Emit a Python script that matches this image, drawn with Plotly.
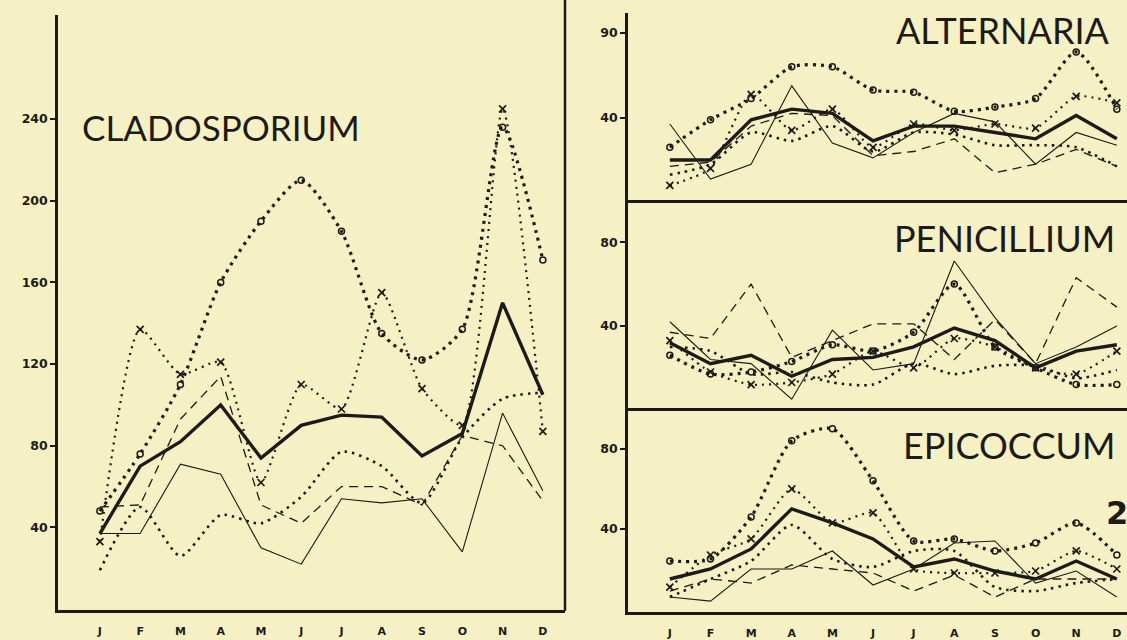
import plotly.graph_objects as go

# ---------------- data ----------------
months = ["J", "F", "M", "A", "M", "J", "J", "A", "S", "O", "N", "D"]
month_idx = list(range(12))

clado_thick   = [37, 70, 82, 100, 74, 90, 95, 94, 75, 86, 150, 105]
clado_thin    = [37, 37, 71, 66, 30, 22, 54, 52, 54, 28, 96, 58]
clado_dashed  = [50, 51, 93, 114, 51, 42, 60, 60, 51, 85, 80, 53]
clado_dotted  = [19, 50, 26, 46, 42, 55, 77, 70, 52, 84, 103, 106]
clado_circles = [48, 76, 110, 160, 190, 210, 185, 135, 122, 137, 236, 171]
clado_crosses = [33, 137, 115, 121, 62, 110, 98, 155, 108, 90, 245, 87]

alt_thick   = [20, 20, 39, 44, 42, 29, 36, 36, 33, 30, 41, 30]
alt_thin    = [37, 11, 18, 55, 28, 21, 33, 42, 38, 18, 33, 27]
alt_dashed  = [17, 19, 36, 42, 41, 22, 24, 30, 14, 18, 25, 17]
alt_dotted  = [13, 18, 33, 29, 36, 24, 33, 32, 27, 27, 26, 17]
alt_circles = [26, 39, 49, 64, 64, 53, 52, 43, 45, 49, 71, 44]
alt_crosses = [8, 16, 51, 34, 44, 26, 37, 34, 37, 35, 50, 47]

pen_thick   = [32, 22, 26, 16, 24, 25, 30, 39, 33, 20, 28, 31]
pen_thin    = [42, 24, 22, 5, 38, 19, 22, 71, 44, 22, 30, 40]
pen_dashed  = [37, 34, 60, 25, 33, 41, 41, 24, 43, 22, 63, 49]
pen_dotted  = [30, 28, 17, 18, 13, 12, 22, 17, 21, 21, 15, 19]
pen_circles = [26, 17, 18, 23, 31, 28, 37, 60, 30, 20, 12, 12]
pen_crosses = [33, 18, 12, 13, 17, 28, 20, 34, 30, 20, 17, 28]

epi_thick   = [15, 20, 30, 50, 43, 35, 21, 25, 19, 15, 24, 15]
epi_thin    = [6, 4, 20, 20, 29, 12, 20, 33, 34, 13, 19, 6]
epi_dashed  = [9, 15, 13, 22, 20, 18, 9, 17, 6, 15, 15, 15]
epi_dotted  = [6, 15, 24, 42, 25, 21, 29, 29, 11, 9, 13, 15]
epi_circles = [24, 25, 46, 84, 90, 64, 34, 35, 29, 33, 43, 27]
epi_crosses = [11, 27, 35, 60, 43, 48, 20, 18, 18, 19, 29, 20]

clado_ticks = [40, 80, 120, 160, 200, 240]
small_ticks = [40, 80]
alt_ticktext = ["40", "90"]
pen_ticktext = ["40", "80"]
epi_ticktext = ["40", "80"]

panels = [
    ("x", "y", dict(thick=clado_thick, thin=clado_thin, dashed=clado_dashed,
                    dotted=clado_dotted, circles=clado_circles, crosses=clado_crosses)),
    ("x2", "y2", dict(thick=alt_thick, thin=alt_thin, dashed=alt_dashed,
                      dotted=alt_dotted, circles=alt_circles, crosses=alt_crosses)),
    ("x3", "y3", dict(thick=pen_thick, thin=pen_thin, dashed=pen_dashed,
                      dotted=pen_dotted, circles=pen_circles, crosses=pen_crosses)),
    ("x4", "y4", dict(thick=epi_thick, thin=epi_thin, dashed=epi_dashed,
                      dotted=epi_dotted, circles=epi_circles, crosses=epi_crosses)),
]

# ---------------- styling ----------------
W, H = 1127, 640
INK = "#1c1b17"
BG = "#f6f1c4"


def fx(p):
    return p / W


def fy(p):
    return 1 - p / H


styles = {
    "thin": dict(mode="lines", line=dict(color=INK, width=1.1)),
    "dashed": dict(mode="lines", line=dict(color=INK, width=1.3, dash="9px,6px")),
    "dotted": dict(mode="lines", line=dict(color=INK, width=2.6, dash="2.5px,5px",
                                           shape="spline", smoothing=0.7)),
    "circles": dict(mode="lines+markers",
                    line=dict(color=INK, width=3.2, dash="3px,5px", shape="spline", smoothing=0.7),
                    marker=dict(symbol="circle-open", size=6, color=INK, line=dict(width=1.5, color=INK))),
    "crosses": dict(mode="lines+markers",
                    line=dict(color=INK, width=2.2, dash="2px,5px", shape="spline", smoothing=0.6),
                    marker=dict(symbol="x-thin", size=7, color=INK, line=dict(width=1.7, color=INK))),
    "thick": dict(mode="lines", line=dict(color=INK, width=3.4)),
}

fig = go.Figure()
for xa, ya, series in panels:
    for name in ["thin", "dashed", "dotted", "circles", "crosses", "thick"]:
        fig.add_trace(go.Scatter(x=month_idx, y=series[name], xaxis=xa, yaxis=ya,
                                 showlegend=False, hoverinfo="skip", **styles[name]))

numfont = dict(family="DejaVu Sans", size=12.5, color=INK, weight="bold")
monthfont = dict(family="DejaVu Sans", size=11, color=INK, weight="bold")
axis_common = dict(showgrid=False, zeroline=False, showline=True, linecolor=INK,
                   linewidth=2.5, fixedrange=True)

left_x = (58, 565)
right_x = (628, 1127)

fig.update_layout(
    width=W, height=H,
    margin=dict(l=0, r=0, t=0, b=0),
    paper_bgcolor=BG, plot_bgcolor="rgba(0,0,0,0)",
    showlegend=False,
    xaxis=dict(domain=[fx(left_x[0]), fx(left_x[1])], range=[-1.04, 11.55], anchor="y",
               tickvals=month_idx, ticktext=months, ticks="", ticklabelstandoff=9,
               tickfont=monthfont, **axis_common),
    yaxis=dict(domain=[fy(612), fy(15)], range=[-0.5, 291], anchor="x",
               tickvals=clado_ticks, ticks="outside", ticklen=5, tickwidth=1.5, tickcolor=INK,
               tickfont=numfont, **axis_common),
    xaxis2=dict(domain=[fx(right_x[0]), 1], range=[-1.03, 11.25], anchor="y2",
                showticklabels=False, ticks="", **axis_common),
    yaxis2=dict(domain=[fy(201), fy(13)], range=[0.94, 89.4], anchor="x2",
                tickvals=small_ticks, ticktext=alt_ticktext, ticks="outside", ticklen=5,
                tickwidth=1.5, tickcolor=INK, tickfont=numfont, **axis_common),
    xaxis3=dict(domain=[fx(right_x[0]), 1], range=[-1.03, 11.25], anchor="y3",
                showticklabels=False, ticks="", **axis_common),
    yaxis3=dict(domain=[fy(409), fy(202)], range=[0.95, 99.5], anchor="x3",
                tickvals=small_ticks, ticktext=pen_ticktext, ticks="outside", ticklen=5,
                tickwidth=1.5, tickcolor=INK, tickfont=numfont, **axis_common),
    xaxis4=dict(domain=[fx(right_x[0]), 1], range=[-1.03, 11.25], anchor="y4",
                tickvals=month_idx, ticktext=months, ticks="", ticklabelstandoff=9,
                tickfont=monthfont, **axis_common),
    yaxis4=dict(domain=[fy(614), fy(410)], range=[-1.5, 100], anchor="x4",
                tickvals=small_ticks, ticktext=epi_ticktext, ticks="outside", ticklen=5,
                tickwidth=1.5, tickcolor=INK, tickfont=numfont, **axis_common),
)

# divider line between the two halves
fig.add_shape(type="line", xref="paper", yref="paper", x0=fx(565), x1=fx(565),
              y0=fy(613), y1=1, line=dict(color=INK, width=2.5))

titles = [
    ("CLADOSPORIUM", 80, 127, "left", 35),
    ("ALTERNARIA", 1112, 30, "right", 36),
    ("PENICILLIUM", 1117, 239, "right", 36),
    ("EPICOCCUM", 1117, 446, "right", 36),
]
for text, px_, py_, anchor, size in titles:
    fig.add_annotation(text=text, xref="paper", yref="paper", x=fx(px_), y=fy(py_),
                       xanchor=anchor, yanchor="middle", showarrow=False,
                       font=dict(family="Lato", size=size, color=INK))

fig.add_annotation(text="<b>2</b>", xref="paper", yref="paper", x=fx(1104), y=fy(515),
                   xanchor="left", yanchor="middle", showarrow=False,
                   font=dict(family="DejaVu Sans", size=32, color=INK))

fig.write_html("out.html", config={"displayModeBar": False},
               post_script="document.body.style.margin='0px';")
